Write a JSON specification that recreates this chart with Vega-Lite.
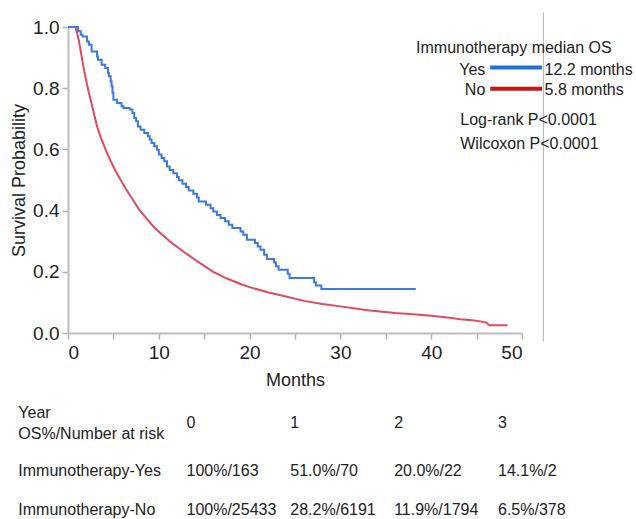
{
  "$schema": "https://vega.github.io/schema/vega-lite/v6.json",
  "width": 454,
  "height": 306,
  "autosize": {"type": "none"},
  "padding": {"left": 68, "top": 27, "right": 114, "bottom": 186},
  "background": "white",
  "config": {
    "view": {"stroke": null},
    "font": "Liberation Sans",
    "text": {"font": "Liberation Sans", "color": "#222"},
    "axis": {
      "grid": false,
      "domainColor": "#bdbdbd",
      "domainWidth": 2,
      "tickColor": "#b0b0b0",
      "tickWidth": 1.5,
      "tickSize": 6,
      "labelFont": "Liberation Sans",
      "labelFontSize": 19,
      "labelColor": "#222",
      "titleFont": "Liberation Sans",
      "titleFontSize": 18,
      "titleFontWeight": "normal",
      "titleColor": "#222"
    }
  },
  "datasets": {
    "yes": [
      {"month": 0, "surv": 1.0}, {"month": 1.1, "surv": 0.986}, {"month": 1.4, "surv": 0.975},
      {"month": 1.6, "surv": 0.969}, {"month": 2.1, "surv": 0.953}, {"month": 2.3, "surv": 0.942},
      {"month": 2.6, "surv": 0.92}, {"month": 3.2, "surv": 0.904}, {"month": 3.3, "surv": 0.893},
      {"month": 3.7, "surv": 0.877}, {"month": 4.1, "surv": 0.866}, {"month": 4.4, "surv": 0.85},
      {"month": 4.5, "surv": 0.839}, {"month": 4.7, "surv": 0.822}, {"month": 4.8, "surv": 0.806},
      {"month": 4.9, "surv": 0.785}, {"month": 5.0, "surv": 0.762}, {"month": 5.4, "surv": 0.752},
      {"month": 5.9, "surv": 0.741}, {"month": 6.1, "surv": 0.735}, {"month": 6.8, "surv": 0.73},
      {"month": 7.1, "surv": 0.719}, {"month": 7.3, "surv": 0.703}, {"month": 7.5, "surv": 0.692},
      {"month": 7.7, "surv": 0.675}, {"month": 8.0, "surv": 0.664}, {"month": 8.4, "surv": 0.654},
      {"month": 8.8, "surv": 0.643}, {"month": 9.0, "surv": 0.632}, {"month": 9.2, "surv": 0.621},
      {"month": 9.5, "surv": 0.61}, {"month": 9.8, "surv": 0.599}, {"month": 10.0, "surv": 0.583},
      {"month": 10.3, "surv": 0.572}, {"month": 10.6, "surv": 0.561}, {"month": 10.9, "surv": 0.544},
      {"month": 11.2, "surv": 0.533}, {"month": 11.6, "surv": 0.522}, {"month": 12.0, "surv": 0.51},
      {"month": 12.2, "surv": 0.499}, {"month": 12.6, "surv": 0.488}, {"month": 13.0, "surv": 0.477},
      {"month": 13.3, "surv": 0.466}, {"month": 13.8, "surv": 0.455}, {"month": 14.2, "surv": 0.443},
      {"month": 14.4, "surv": 0.43}, {"month": 15.2, "surv": 0.419}, {"month": 15.7, "surv": 0.408},
      {"month": 16.0, "surv": 0.397}, {"month": 16.4, "surv": 0.386}, {"month": 16.8, "surv": 0.376},
      {"month": 17.3, "surv": 0.365}, {"month": 17.7, "surv": 0.354}, {"month": 18.1, "surv": 0.343},
      {"month": 19.0, "surv": 0.332}, {"month": 19.3, "surv": 0.321}, {"month": 19.7, "surv": 0.305},
      {"month": 20.6, "surv": 0.294}, {"month": 20.9, "surv": 0.283}, {"month": 21.2, "surv": 0.272},
      {"month": 21.6, "surv": 0.256}, {"month": 21.9, "surv": 0.242}, {"month": 22.7, "surv": 0.23},
      {"month": 22.9, "surv": 0.218}, {"month": 23.2, "surv": 0.207}, {"month": 24.2, "surv": 0.194},
      {"month": 24.4, "surv": 0.18}, {"month": 27.1, "surv": 0.166}, {"month": 27.3, "surv": 0.155},
      {"month": 27.9, "surv": 0.144}, {"month": 38.3, "surv": 0.144}
    ],
    "no": [
      {"month": 0, "surv": 1.0}, {"month": 0.8, "surv": 1.0}, {"month": 1.0, "surv": 0.98},
      {"month": 1.2, "surv": 0.955}, {"month": 1.5, "surv": 0.905}, {"month": 1.7, "surv": 0.87},
      {"month": 2.0, "surv": 0.825}, {"month": 2.3, "surv": 0.785}, {"month": 2.8, "surv": 0.725},
      {"month": 3.2, "surv": 0.675}, {"month": 3.6, "surv": 0.64}, {"month": 4.2, "surv": 0.595},
      {"month": 4.7, "surv": 0.562}, {"month": 5.2, "surv": 0.532}, {"month": 5.8, "surv": 0.5},
      {"month": 6.4, "surv": 0.47}, {"month": 7.0, "surv": 0.442}, {"month": 7.8, "surv": 0.405},
      {"month": 8.7, "surv": 0.372}, {"month": 9.5, "surv": 0.345}, {"month": 10.5, "surv": 0.318},
      {"month": 11.2, "surv": 0.3}, {"month": 12.0, "surv": 0.282}, {"month": 13.0, "surv": 0.26},
      {"month": 14.5, "surv": 0.229}, {"month": 16.0, "surv": 0.2}, {"month": 17.5, "surv": 0.178},
      {"month": 19.0, "surv": 0.16}, {"month": 20.0, "surv": 0.15}, {"month": 22.0, "surv": 0.133},
      {"month": 24.0, "surv": 0.119}, {"month": 26.0, "surv": 0.105}, {"month": 28.0, "surv": 0.095},
      {"month": 30.0, "surv": 0.087}, {"month": 33.0, "surv": 0.074}, {"month": 36.0, "surv": 0.065},
      {"month": 38.0, "surv": 0.061}, {"month": 40.0, "surv": 0.056}, {"month": 42.0, "surv": 0.05},
      {"month": 43.2, "surv": 0.045}, {"month": 44.5, "surv": 0.042}, {"month": 45.4, "surv": 0.038},
      {"month": 46.1, "surv": 0.034}, {"month": 46.3, "surv": 0.027}, {"month": 46.5, "surv": 0.025},
      {"month": 48.4, "surv": 0.025}
    ],
    "risk": [
      {"group": "Yes", "year": 0, "label": "100%/163"},
      {"group": "Yes", "year": 1, "label": "51.0%/70"},
      {"group": "Yes", "year": 2, "label": "20.0%/22"},
      {"group": "Yes", "year": 3, "label": "14.1%/2"},
      {"group": "No", "year": 0, "label": "100%/25433"},
      {"group": "No", "year": 1, "label": "28.2%/6191"},
      {"group": "No", "year": 2, "label": "11.9%/1794"},
      {"group": "No", "year": 3, "label": "6.5%/378"}
    ],
    "years": [{"year": 0}, {"year": 1}, {"year": 2}, {"year": 3}]
  },
  "resolve": {"scale": {"x": "independent"}},
  "layer": [
    {
      "data": {"values": [{}]},
      "layer": [
        {
          "data": {"name": "no"},
          "mark": {"type": "line", "color": "#e04a5c", "strokeWidth": 2},
          "encoding": {
            "x": {"field": "month", "type": "quantitative",
              "scale": {"domain": [0, 50], "nice": false, "zero": false},
              "axis": {"values": [0,5,10,15,20,25,30,35,40,45,50], "labelExpr": "datum.value % 10 == 0 ? datum.label : ''", "labelPadding": 4, "title": "Months", "titlePadding": 9, "labelOverlap": false}},
            "y": {"field": "surv", "type": "quantitative",
              "scale": {"domain": [0, 1], "nice": false},
              "axis": {"values": [0,0.1,0.2,0.3,0.4,0.5,0.6,0.7,0.8,0.9,1.0], "labelExpr": "round(datum.value*10) % 2 == 0 ? format(datum.value, '.1f') : ''", "labelPadding": 3, "title": "Survival Probability", "titlePadding": 4, "labelOverlap": false}}
          }
        },
        {
          "data": {"name": "yes"},
          "mark": {"type": "line", "color": "#3f78e0", "strokeWidth": 2, "interpolate": "step-after"},
          "encoding": {
            "x": {"field": "month", "type": "quantitative"},
            "y": {"field": "surv", "type": "quantitative"}
          }
        },
        {
          "mark": {"type": "rule", "color": "#b0b0b0", "strokeWidth": 1},
          "encoding": {
            "x": {"datum": 52.35, "type": "quantitative"},
            "y": {"datum": 1.047, "type": "quantitative"},
            "y2": {"datum": -0.028}
          }
        },
        {
          "mark": {"type": "rule", "color": "#1f6fd6", "strokeWidth": 4},
          "encoding": {
            "x": {"datum": 46.5, "type": "quantitative"},
            "x2": {"datum": 52.2},
            "y": {"datum": 0.868, "type": "quantitative"}
          }
        },
        {
          "mark": {"type": "rule", "color": "#cc1212", "strokeWidth": 4},
          "encoding": {
            "x": {"datum": 46.5, "type": "quantitative"},
            "x2": {"datum": 52.2},
            "y": {"datum": 0.798, "type": "quantitative"}
          }
        },
        {
          "mark": {"type": "text", "align": "left", "baseline": "middle", "fontSize": 16, "text": "Immunotherapy median OS"},
          "encoding": {"x": {"datum": 38.33, "type": "quantitative"}, "y": {"datum": 0.931, "type": "quantitative"}}
        },
        {
          "mark": {"type": "text", "align": "right", "baseline": "middle", "fontSize": 16, "text": "Yes"},
          "encoding": {"x": {"datum": 45.96, "type": "quantitative"}, "y": {"datum": 0.86, "type": "quantitative"}}
        },
        {
          "mark": {"type": "text", "align": "right", "baseline": "middle", "fontSize": 16, "text": "No"},
          "encoding": {"x": {"datum": 45.96, "type": "quantitative"}, "y": {"datum": 0.793, "type": "quantitative"}}
        },
        {
          "mark": {"type": "text", "align": "left", "baseline": "middle", "fontSize": 16, "text": "12.2 months"},
          "encoding": {"x": {"datum": 52.49, "type": "quantitative"}, "y": {"datum": 0.86, "type": "quantitative"}}
        },
        {
          "mark": {"type": "text", "align": "left", "baseline": "middle", "fontSize": 16, "text": "5.8 months"},
          "encoding": {"x": {"datum": 52.49, "type": "quantitative"}, "y": {"datum": 0.793, "type": "quantitative"}}
        },
        {
          "mark": {"type": "text", "align": "left", "baseline": "middle", "fontSize": 16, "text": "Log-rank P<0.0001"},
          "encoding": {"x": {"datum": 43.2, "type": "quantitative"}, "y": {"datum": 0.697, "type": "quantitative"}}
        },
        {
          "mark": {"type": "text", "align": "left", "baseline": "middle", "fontSize": 16, "text": "Wilcoxon P<0.0001"},
          "encoding": {"x": {"datum": 43.2, "type": "quantitative"}, "y": {"datum": 0.618, "type": "quantitative"}}
        },
        {
          "mark": {"type": "text", "align": "left", "baseline": "middle", "fontSize": 16, "text": "Year"},
          "encoding": {"x": {"datum": -5.47, "type": "quantitative"}, "y": {"datum": -0.2605, "type": "quantitative"}}
        },
        {
          "mark": {"type": "text", "align": "left", "baseline": "middle", "fontSize": 16, "text": "OS%/Number at risk"},
          "encoding": {"x": {"datum": -5.47, "type": "quantitative"}, "y": {"datum": -0.329, "type": "quantitative"}}
        },
        {
          "mark": {"type": "text", "align": "left", "baseline": "middle", "fontSize": 16, "text": "Immunotherapy-Yes"},
          "encoding": {"x": {"datum": -5.47, "type": "quantitative"}, "y": {"datum": -0.45, "type": "quantitative"}}
        },
        {
          "mark": {"type": "text", "align": "left", "baseline": "middle", "fontSize": 16, "text": "Immunotherapy-No"},
          "encoding": {"x": {"datum": -5.47, "type": "quantitative"}, "y": {"datum": -0.578, "type": "quantitative"}}
        }
      ]
    },
    {
      "layer": [
        {
          "data": {"name": "years"},
          "mark": {"type": "text", "align": "left", "baseline": "middle", "fontSize": 16},
          "encoding": {
            "x": {"field": "year", "type": "quantitative", "scale": {"domain": [-1.1413, 3.2313], "nice": false, "zero": false}, "axis": null},
            "y": {"datum": -0.293, "type": "quantitative"},
            "text": {"field": "year", "type": "nominal"}
          }
        },
        {
          "data": {"name": "risk"},
          "transform": [{"filter": "datum.group == 'Yes'"}],
          "mark": {"type": "text", "align": "left", "baseline": "middle", "fontSize": 16},
          "encoding": {
            "x": {"field": "year", "type": "quantitative", "axis": null},
            "y": {"datum": -0.45, "type": "quantitative"},
            "text": {"field": "label", "type": "nominal"}
          }
        },
        {
          "data": {"name": "risk"},
          "transform": [{"filter": "datum.group == 'No'"}],
          "mark": {"type": "text", "align": "left", "baseline": "middle", "fontSize": 16},
          "encoding": {
            "x": {"field": "year", "type": "quantitative", "axis": null},
            "y": {"datum": -0.578, "type": "quantitative"},
            "text": {"field": "label", "type": "nominal"}
          }
        }
      ]
    }
  ]
}
